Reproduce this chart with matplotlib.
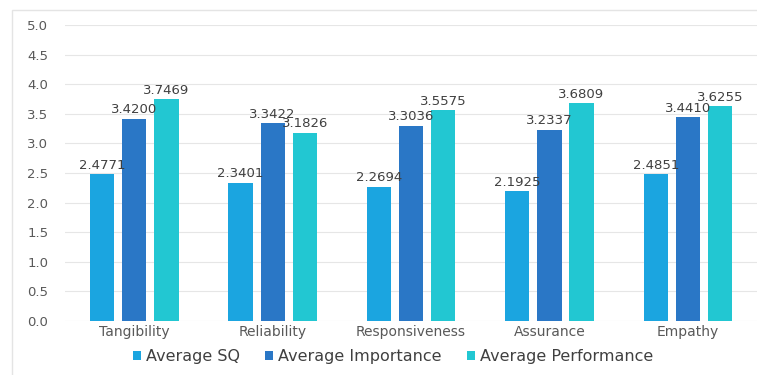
import matplotlib.pyplot as plt
import numpy as np
from matplotlib.patches import Rectangle

dimensions = ['Tangibility', 'Reliability', 'Responsiveness', 'Assurance', 'Empathy']
avg_sq = [2.4771, 2.3401, 2.2694, 2.1925, 2.4851]
avg_importance = [3.4200, 3.3422, 3.3036, 3.2337, 3.4410]
avg_performance = [3.7469, 3.1826, 3.5575, 3.6809, 3.6255]

series = [('Average SQ', avg_sq, '#1ba5e0'),
          ('Average Importance', avg_importance, '#2a77c6'),
          ('Average Performance', avg_performance, '#22c7d2')]

fig = plt.figure(figsize=(7.57, 3.75), dpi=100)
ax = fig.add_axes([0.086, 0.144, 0.914, 0.789])

# light frame round the chart area
fig.patches.append(Rectangle((12 / 757, -0.01), 1.0, 1 - 10 / 375 + 0.01,
                             transform=fig.transFigure, fill=False,
                             edgecolor='#e4e4e4', lw=1.0))

x = np.arange(len(dimensions))
w = 0.175
step = 0.232
for i, (name, vals, col) in enumerate(series):
    pos = x + (i - 1) * step
    ax.bar(pos, vals, w, color=col, label=name, zorder=3)
    for px, v in zip(pos, vals):
        ax.text(px, v + 0.04, f'{v:.4f}', ha='center', va='bottom',
                fontsize=9.5, color='#404040', zorder=4)

ax.set_ylim(0, 5.0)
ax.set_xlim(-0.5, 4.5)
ax.set_yticks(np.arange(0, 5.01, 0.5))
ax.set_yticklabels([f'{t:.1f}' for t in np.arange(0, 5.01, 0.5)])
ax.set_xticks(x)
ax.set_xticklabels(dimensions)
ax.grid(axis='y', color='#e6e6e6', lw=0.8, zorder=0)
for s in ax.spines.values():
    s.set_visible(False)
ax.tick_params(axis='both', length=0, colors='#595959', labelsize=9.5)
ax.tick_params(axis='y', pad=12)
ax.tick_params(axis='x', pad=3, labelsize=10)

ax.legend(loc='center', bbox_to_anchor=(0.474, -0.12), ncol=3,
          frameon=False, fontsize=11.5, handlelength=0.5, handleheight=0.5,
          columnspacing=1.6, handletextpad=0.3, labelcolor='#404040')

fig.savefig('out.png', dpi=100)
